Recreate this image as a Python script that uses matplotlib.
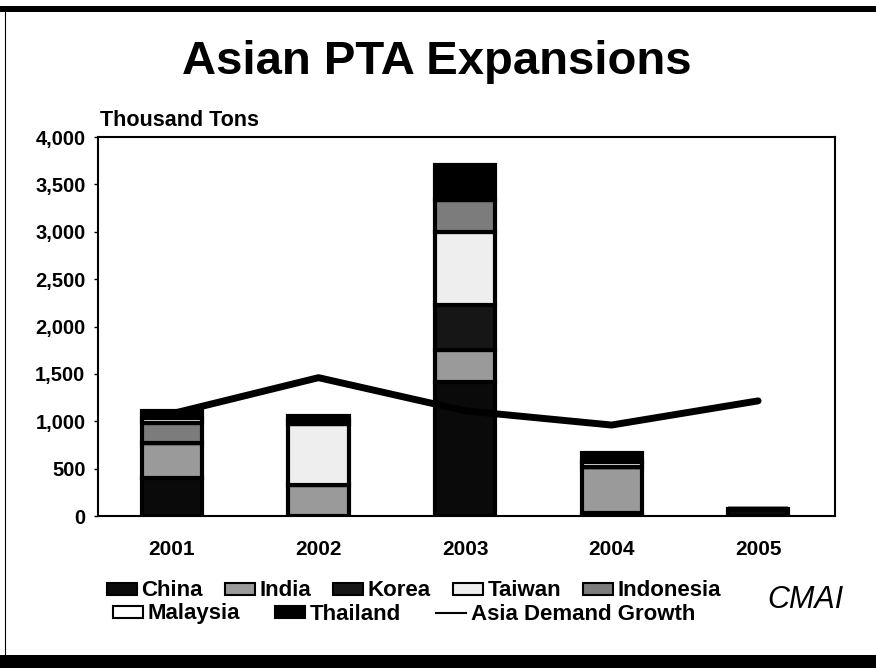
import matplotlib
matplotlib.use('Agg')
import matplotlib.pyplot as plt
import numpy as np
from matplotlib.patches import Rectangle, Patch
from matplotlib.lines import Line2D
from matplotlib.ticker import StrMethodFormatter

plt.rcParams['font.family'] = ['Liberation Sans', 'DejaVu Sans']
plt.rcParams['font.weight'] = 'bold'

years = ['2001', '2002', '2003', '2004', '2005']
china = [400, 0, 1410, 30, 75]
india = [370, 330, 340, 490, 0]
korea = [0, 0, 475, 0, 0]
taiwan = [0, 640, 770, 0, 0]
indonesia = [210, 0, 340, 0, 0]
malaysia = [50, 40, 0, 50, 0]
thailand = [80, 45, 370, 95, 0]
demand = [1080, 1460, 1110, 960, 1215]  # Asia demand growth

series = [('China', china, '#0a0a0a'),
          ('India', india, '#9a9a9a'),
          ('Korea', korea, '#161616'),
          ('Taiwan', taiwan, '#eeeeee'),
          ('Indonesia', indonesia, '#7c7c7c'),
          ('Malaysia', malaysia, '#ffffff'),
          ('Thailand', thailand, '#000000')]

fig = plt.figure(figsize=(8.76, 6.68), dpi=100)
ax = fig.add_axes([98/876, 1-516/668, (835-98)/876, (516-137)/668])

x = np.arange(len(years))
bottom = np.zeros(len(years))
handles = {}
for name, vals, col in series:
    vals = np.array(vals, dtype=float)
    ax.bar(x, vals, width=0.41, bottom=bottom, color=col, edgecolor='black',
           linewidth=3, zorder=2)
    bottom += vals
    handles[name] = Patch(facecolor=col, edgecolor='black', linewidth=1.5)

ax.plot(x, demand, color='black', linewidth=5, solid_capstyle='round', zorder=3)
handles['Asia Demand Growth'] = Line2D([], [], color='black', linewidth=1.5)

ax.set_xlim(-0.505, 4.525)
ax.set_ylim(0, 4000)
ax.set_yticks(np.arange(0, 4001, 500))
ax.yaxis.set_major_formatter(StrMethodFormatter('{x:,.0f}'))
ax.set_xticks(x)
ax.set_xticklabels(years)
ax.tick_params(axis='y', labelsize=14.5, length=3, width=1, pad=6)
ax.tick_params(axis='x', labelsize=15, length=0, pad=17)
for s in ax.spines.values():
    s.set_linewidth(1.5)

fig.text(100/876, 1-121/668, 'Thousand Tons', fontsize=15.5, fontweight='bold',
         ha='left', va='center')
fig.text(437/876, 1-62/668, 'Asian PTA Expansions', fontsize=34,
         fontweight='bold', ha='center', va='center')

row1 = ['China', 'India', 'Korea', 'Taiwan', 'Indonesia']
row2 = ['Malaysia', 'Thailand', 'Asia Demand Growth']
fig.legend([handles[n] for n in row1], row1, loc='center',
           bbox_to_anchor=(414/876, 1-591/668), ncol=5, frameon=False,
           fontsize=16, handlelength=1.35, handleheight=0.45,
           handletextpad=0.2, columnspacing=1.0, borderpad=0)
fig.legend([handles[n] for n in row2], row2, loc='center',
           bbox_to_anchor=(404/876, 1-614/668), ncol=3, frameon=False,
           fontsize=16, handlelength=1.35, handleheight=0.45,
           handletextpad=0.2, columnspacing=1.6, borderpad=0)

fig.text(805/876, 1-600/668, 'CMAI', fontsize=22, fontstyle='italic',
         fontweight='normal', ha='center', va='center')

# page border from the slide scan
fig.add_artist(Rectangle((0, 1-12/668), 1, 6/668, transform=fig.transFigure,
                         color='black', lw=0))
fig.add_artist(Rectangle((0, 0), 1, 13/668, transform=fig.transFigure,
                         color='black', lw=0))
fig.add_artist(Line2D([5/876, 5/876], [13/668, 1-12/668],
                      transform=fig.transFigure, color='black', lw=0.8))

fig.savefig('out.png', dpi=100)
